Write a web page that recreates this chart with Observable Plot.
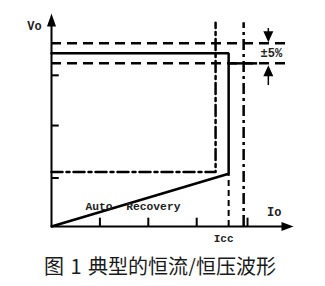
<!DOCTYPE html>
<html>
<head>
<meta charset="utf-8">
<script src="https://cdn.jsdelivr.net/npm/d3@7"></script>
<script src="https://cdn.jsdelivr.net/npm/@observablehq/plot@0.6"></script>
<style>
  body { margin: 0; background: #fff; }
  #chart svg { display: block; }
  .caption {
    width: 325px;
    box-sizing: border-box;
    padding-right: 5px;
    margin-top: 6px;
    text-align: center;
    font-family: "Noto Sans CJK SC", sans-serif;
    font-size: 20px;
    line-height: 20px;
    color: #1a1a1a;
    word-spacing: 2px;
  }
</style>
</head>
<body>
<div id="chart"></div>
<div class="caption">图 1 典型的恒流/恒压波形</div>
<script>
// Output current (x) and output voltage (y, relative to nominal Vo)
const xTicks = [1, 2, 3, 4.05];       // marks along the current axis
const yTicks = [0.873, 0.583, 0.28];  // marks along the voltage axis
const xMax = 5;                       // end of current axis
const yMax = 1.23;                    // end of voltage axis
const iLimit = 3.39;                  // constant-current limit (dash-dot)
const icc = 3.66;                     // Icc, short-circuit/foldback point
const iTrip = 3.97;                   // upper current bound (dash-dot)
const vNom = 1.0;                     // regulated output voltage
const vHi = 1.058;                    // +5% band
const vLo = 0.942;                    // -5% band
const vFoldLimit = 0.315;             // foldback level (dash-dot)
const vFoldEnd = 0.305;               // voltage where recovery slope meets Icc
const bandEnd = 4.86;                 // right end of tolerance lines
const bandArrowX = 4.48;              // position of ±5% arrows
const guideTop = 1.177;               // top of vertical guide lines

// Solid V/I characteristic: constant voltage, drop at Icc, recovery slope to origin
const curve = [
  {x: 0, y: vNom},
  {x: icc, y: vNom},
  {x: icc, y: vFoldEnd},
  {x: 0, y: 0}
];
// Dash-dot limit outline
const limitPath = [
  {x: 0, y: vFoldLimit},
  {x: iLimit, y: vFoldLimit},
  {x: iLimit, y: guideTop}
];

// Filled arrow heads with the tip at the anchor point
const headUp = {draw(c) { c.moveTo(0, 0); c.lineTo(-4.5, 13); c.lineTo(4.5, 13); c.closePath(); }};
const headRight = {draw(c) { c.moveTo(0, 0); c.lineTo(-12, -4.5); c.lineTo(-12, 4.5); c.closePath(); }};
const bandDown = {draw(c) { c.moveTo(0, -1); c.lineTo(-5, -12); c.lineTo(5, -12); c.closePath(); }};
const bandUp = {draw(c) { c.moveTo(0, 2); c.lineTo(-5, 13); c.lineTo(5, 13); c.closePath(); }};

const mono = "'Liberation Mono', 'DejaVu Sans Mono', monospace";
const ink = "#000";

const chart = Plot.plot({
  width: 325,
  height: 250,
  style: {background: "#fff"},
  x: {domain: [0, xMax], range: [51, 293], axis: null},
  y: {domain: [0, yMax], range: [226, 13], axis: null},
  marks: [
    // tolerance band lines
    Plot.ruleY([vHi, vLo], {x1: 0, x2: bandEnd, stroke: ink, strokeWidth: 2.5, strokeDasharray: "10,6"}),
    Plot.ruleY([vLo], {x1: icc, x2: 4.26, stroke: ink, strokeWidth: 2.5}),
    // dash-dot current limits
    Plot.line(limitPath, {x: "x", y: "y", stroke: ink, strokeWidth: 2.5, strokeDasharray: "11,4,3,4"}),
    Plot.ruleX([iTrip], {y1: 0, y2: guideTop, stroke: ink, strokeWidth: 2.5, strokeDasharray: "11,4,3,4"}),
    // Icc guide down to the axis
    Plot.ruleX([icc], {y1: 0, y2: vFoldEnd, stroke: ink, strokeWidth: 2, strokeDasharray: "6,4"}),
    // characteristic
    Plot.line(curve, {x: "x", y: "y", stroke: ink, strokeWidth: 2.5, strokeLinejoin: "miter"}),
    // axis ticks
    Plot.ruleX(xTicks, {y1: 0, y2: 0.048, stroke: ink, strokeWidth: 2}),
    Plot.ruleY(yTicks, {x1: 0, x2: 0.16, stroke: ink, strokeWidth: 2}),
    // axes with arrow heads
    Plot.ruleX([0], {y1: 0, y2: yMax - 0.04, stroke: ink, strokeWidth: 2}),
    Plot.ruleY([0], {x1: 0, x2: xMax - 0.1, stroke: ink, strokeWidth: 2}),
    Plot.dot([{x: 0, y: yMax}], {x: "x", y: "y", symbol: headUp, fill: ink}),
    Plot.dot([{x: xMax, y: 0}], {x: "x", y: "y", symbol: headRight, fill: ink}),
    // ±5% indicators
    Plot.ruleX([bandArrowX], {y1: vHi + 0.04, y2: 1.143, stroke: ink, strokeWidth: 1.5}),
    Plot.ruleX([bandArrowX], {y1: vLo - 0.06, y2: 0.814, stroke: ink, strokeWidth: 1.5}),
    Plot.dot([{x: bandArrowX, y: vHi}], {x: "x", y: "y", symbol: bandDown, fill: ink}),
    Plot.dot([{x: bandArrowX, y: vLo}], {x: "x", y: "y", symbol: bandUp, fill: ink}),
    Plot.text(["±5%"], {x: bandArrowX, y: vNom, dx: 3, fontFamily: mono, fontWeight: "bold", fontSize: 12, fill: "#222"}),
    // labels
    Plot.text(["Vo"], {x: 0, y: yMax, dx: -17, dy: 13, fontFamily: mono, fontWeight: "bold", fontSize: 12, fill: "#222"}),
    Plot.text(["Io"], {x: 4.6, y: 0, dy: -14, fontFamily: mono, fontWeight: "bold", fontSize: 12, fill: "#222"}),
    Plot.text(["Icc"], {x: icc, y: 0, dx: -5, dy: 12, fontFamily: mono, fontWeight: "bold", fontSize: 11, fill: "#222"}),
    Plot.text(["Auto\u00a0\u00a0Recovery"], {x: icc * 0.46, y: vFoldEnd * 0.46, dy: 4, fontFamily: mono, fontWeight: "bold", fontSize: 11.3, fill: "#222"})
  ]
});
document.getElementById("chart").append(chart);
</script>
</body>
</html>
